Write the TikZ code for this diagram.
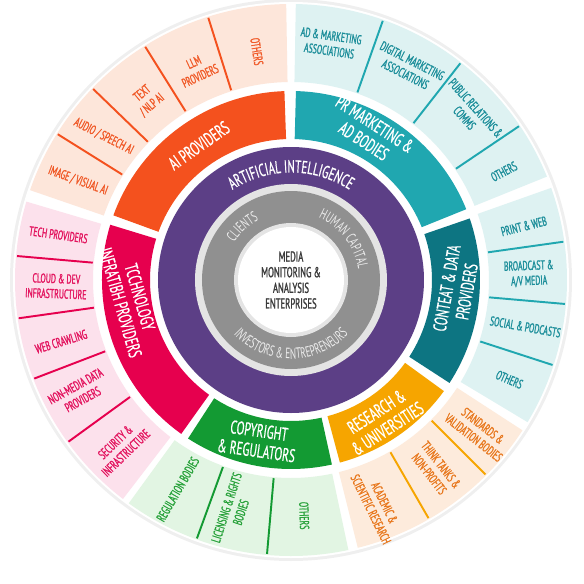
\documentclass[tikz,border=0pt]{standalone}
\usepackage{fontspec}
\setmainfont{PT Sans}[FakeStretch=0.62]
\newfontfamily\heavyfont{PT Sans}[FakeStretch=0.6,FakeBold=1.3]
\newfontfamily\midfont{PT Sans}[FakeStretch=0.62,FakeBold=0.7]
\usetikzlibrary{decorations.text}

\definecolor{aiorange}{HTML}{F4511E}
\definecolor{aisoft}{HTML}{FDE6DA}
\definecolor{aitext}{HTML}{F05A28}
\definecolor{prteal}{HTML}{20A7B0}
\definecolor{contentteal}{HTML}{0D7582}
\definecolor{tealsoft}{HTML}{DEF2F2}
\definecolor{tealtext}{HTML}{1C8E9A}
\definecolor{researchamber}{HTML}{F6A500}
\definecolor{researchsoft}{HTML}{FDEBDC}
\definecolor{researchtext}{HTML}{E8781E}
\definecolor{copygreen}{HTML}{139A33}
\definecolor{greensoft}{HTML}{E2F5E3}
\definecolor{greentext}{HTML}{28A23B}
\definecolor{techred}{HTML}{E6004E}
\definecolor{techsoft}{HTML}{FCE1EC}
\definecolor{techtext}{HTML}{E3155F}
\definecolor{aipurple}{HTML}{5C3F86}
\definecolor{graymid}{HTML}{909090}
\definecolor{ringedge}{HTML}{E4E4E4}
\definecolor{haloc}{HTML}{EFEFEF}
\definecolor{coretext}{HTML}{3A3A3A}
\definecolor{graytext}{HTML}{EDEDED}

\begin{document}
\begin{tikzpicture}[
  bandtext/.style={text=white,font=\midfont\fontsize{10.5}{11.5}\selectfont,align=center},
  celltext/.style={text=#1,font=\heavyfont\fontsize{7.4}{8.6}\selectfont,align=center},
  cellsep/.style={#1,line width=1.1pt}]
  \begin{scope}[scale=0.02]
  \useasboundingbox (-291,-304) rectangle (293,280);

  \fill[haloc] (0,0) circle[radius=281];
  \fill[white] (0,0) circle[radius=278];

  % outer ring
  \fill[aisoft] (91:198) arc[start angle=91,end angle=161,radius=198] -- (161:276) arc[start angle=161,end angle=91,radius=276] -- cycle;
  \fill[tealsoft] (22:198) arc[start angle=22,end angle=89,radius=198] -- (89:276) arc[start angle=89,end angle=22,radius=276] -- cycle;
  \fill[tealsoft] (-31:198) arc[start angle=-31,end angle=19.5,radius=198] -- (19.5:276) arc[start angle=19.5,end angle=-31,radius=276] -- cycle;
  \fill[researchsoft] (-76:198) arc[start angle=-76,end angle=-33,radius=198] -- (-33:276) arc[start angle=-33,end angle=-76,radius=276] -- cycle;
  \fill[greensoft] (-126:198) arc[start angle=-126,end angle=-78,radius=198] -- (-78:276) arc[start angle=-78,end angle=-126,radius=276] -- cycle;
  \fill[techsoft] (163.5:198) arc[start angle=163.5,end angle=232.5,radius=198] -- (232.5:276) arc[start angle=232.5,end angle=163.5,radius=276] -- cycle;

  \foreach \a in {107.5,122,136,148} \draw[cellsep=aiorange] (\a:199) -- (\a:275);
  \foreach \a in {70.5,52,34} \draw[cellsep=prteal] (\a:199) -- (\a:275);
  \foreach \a in {8,-5,-18} \draw[cellsep=prteal] (\a:199) -- (\a:275);
  \foreach \a in {-45,-60} \draw[cellsep=researchamber] (\a:199) -- (\a:275);
  \foreach \a in {-95,-110} \draw[cellsep=copygreen] (\a:199) -- (\a:275);
  \foreach \a in {175,188,201,216} \draw[cellsep=techred] (\a:199) -- (\a:275);

  % middle bands
  \fill[aiorange] (92:141) arc[start angle=92,end angle=160,radius=141] -- (160:189) arc[start angle=160,end angle=92,radius=189] -- cycle;
  \fill[prteal] (22:141) arc[start angle=22,end angle=88.5,radius=141] -- (88.5:189) arc[start angle=88.5,end angle=22,radius=189] -- cycle;
  \fill[contentteal] (-33:141) arc[start angle=-33,end angle=19,radius=141] -- (19:189) arc[start angle=19,end angle=-33,radius=189] -- cycle;
  \fill[researchamber] (-75:141) arc[start angle=-75,end angle=-36,radius=141] -- (-36:189) arc[start angle=-36,end angle=-75,radius=189] -- cycle;
  \fill[copygreen] (-123:141) arc[start angle=-123,end angle=-77.5,radius=141] -- (-77.5:189) arc[start angle=-77.5,end angle=-123,radius=189] -- cycle;
  \fill[techred] (163:141) arc[start angle=163,end angle=234.5,radius=141] -- (234.5:189) arc[start angle=234.5,end angle=163,radius=189] -- cycle;

  % core rings
  \fill[aipurple] (0,0) circle[radius=133];
  \fill[ringedge] (0,0) circle[radius=96];
  \fill[graymid] (0,0) circle[radius=89];
  \fill[ringedge] (0,0) circle[radius=57];
  \fill[white] (0,0) circle[radius=53];

  \node[align=center,text=coretext,font=\heavyfont\fontsize{8.2}{8.9}\selectfont] (core) at (0,0)
    {MEDIA\\MONITORING \&\\ANALYSIS\\ENTERPRISES};

  % band labels
  \node[bandtext,rotate=35] (aiband) at (124.4:163) {AI PROVIDERS};
  \node[bandtext,rotate=-33] (prband) at (62:167) {PR MARKETING \&\\AD BODIES};
  \node[bandtext,rotate=80] (contentband) at (-3.4:166) {CONTEAT \& DATA\\PROVIDERS};
  \node[bandtext,rotate=33] (researchband) at (-57:167) {RESEARCH \&\\\& UNIVERSITIES};
  \node[bandtext,rotate=-8] (copyband) at (-101.7:164) {COPYRIGHT\\\& REGULATORS};
  \node[bandtext,rotate=-74] (techband) at (187:162) {TCCHNOLOGY\\INFRATIBH PROVIDERS};

  % cell labels
  \node[celltext=aitext,rotate=-81] (aiothers) at (98.5:231) {OTHERS};
  \node[celltext=aitext,rotate=25] (llm) at (114:231) {LLM\\PROVIDERS};
  \node[celltext=aitext,rotate=40] (nlp) at (128.5:231) {TEXT\\/ NLP AI};
  \node[celltext=aitext,rotate=-27] (speech) at (142.5:236) {AUDIO / SPEECH AI};
  \node[celltext=aitext,rotate=-20] (visual) at (155:235) {IMAGE / VISUAL AI};

  \node[celltext=tealtext,rotate=-8] (admarketing) at (80.6:240) {AD \& MARKETING\\ASSOCIATIONS};
  \node[celltext=tealtext,rotate=-27] (digital) at (61:243) {DIGITAL MARKETING\\ASSOCIATIONS};
  \node[celltext=tealtext,rotate=-48] (publicrel) at (43:245) {PUBLIC RELATIONS \&\\COMMS};
  \node[celltext=tealtext,rotate=28] (prothers) at (27:239) {OTHERS};

  \node[celltext=tealtext,rotate=14] (printweb) at (13:239) {PRINT \& WEB};
  \node[celltext=tealtext,rotate=2] (broadcast) at (1.5:238) {BROADCAST \&\\A/V MEDIA};
  \node[celltext=tealtext,rotate=-10] (social) at (-11.3:239) {SOCIAL \& PODCASTS};
  \node[celltext=tealtext,rotate=-23] (contentothers) at (-24.5:240) {OTHERS};

  \node[celltext=researchtext,rotate=-38] (standards) at (-39:241) {STANDARDS \&\\VALIDATION BODIES};
  \node[celltext=researchtext,rotate=-52] (thinktanks) at (-52.7:238) {THINK TANKS \&\\NON-PROFITS};
  \node[celltext=researchtext,rotate=-64] (academic) at (-69:242) {ACADEMIC \&\\SCIENTIFIC RESEARCH};

  \node[celltext=greentext,rotate=-88] (greenothers) at (-86.8:236) {OTHERS};
  \node[celltext=greentext,rotate=72] (licensing) at (-104:237) {LICENSING \& RIGHTS\\BODIES};
  \node[celltext=greentext,rotate=60] (regulation) at (-118.4:238) {REGULATION BODIES};

  \node[celltext=techtext,rotate=-8] (techprov) at (169:237) {TECH PROVIDERS};
  \node[celltext=techtext,rotate=-2] (cloud) at (181.5:235) {CLOUD \& DEV\\INFRASTRUCTURE};
  \node[celltext=techtext,rotate=17] (crawling) at (195:238) {WEB CRAWLING};
  \node[celltext=techtext,rotate=29] (nonmedia) at (208:240) {NON-MEDIA DATA\\PROVIDERS};
  \node[celltext=techtext,rotate=44] (security) at (224.5:239) {SECURITY \&\\INFRASTRUCTURE};
  \end{scope}

  % ring texts
  \path[decorate,decoration={text along path,text align=center,
    text={|\midfont\fontsize{10}{10}\selectfont\color{white}|ARTIFICIAL INTELLIGENCE}}]
    (160:2.15) arc[start angle=160,end angle=20,radius=2.15];
  \path[decorate,decoration={text along path,text align=center,
    text={|\fontsize{8.5}{8.5}\selectfont\color{graytext}|CLIENTS}}]
    (170:1.36) arc[start angle=170,end angle=95,radius=1.36];
  \path[decorate,decoration={text along path,text align=center,
    text={|\fontsize{8.5}{8.5}\selectfont\color{graytext}|HUMAN CAPITAL}}]
    (80:1.36) arc[start angle=80,end angle=-5,radius=1.36];
  \path[decorate,decoration={text along path,text align=center,
    text={|\fontsize{8.5}{8.5}\selectfont\color{graytext}|INVESTORS {\&} ENTREPRENEURS}}]
    (200:1.58) arc[start angle=200,end angle=340,radius=1.58];
\end{tikzpicture}
\end{document}
